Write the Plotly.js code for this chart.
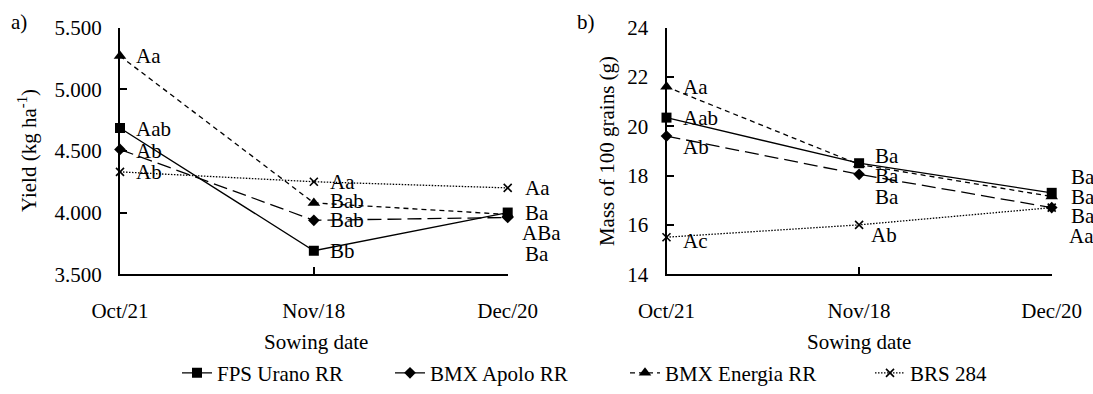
<!DOCTYPE html>
<html>
<head>
<meta charset="utf-8">
<script src="https://cdn.plot.ly/plotly-3.0.1.min.js"></script>
<style>html,body{margin:0;padding:0;background:#fff}#chart{width:1093px;height:394px}</style>
</head>
<body>
<div id="chart"></div>
<script>
// ---- data ----
const dates = ["Oct/21", "Nov/18", "Dec/20"];
const seriesNames = ["FPS Urano RR", "BMX Apolo RR", "BMX Energia RR", "BRS 284"];

const yieldFPS = [4686, 3690, 4000];
const yieldApolo = [4512, 3937, 3960];
const yieldEnergia = [5270, 4078, 3985];
const yieldBRS = [4330, 4250, 4200];

const massFPS = [20.35, 18.5, 17.3];
const massApolo = [19.6, 18.05, 16.7];
const massEnergia = [21.6, 18.45, 17.15];
const massBRS = [15.5, 16.0, 16.7];

const yieldLabelsFPS = ["Aab", "Bb", "Ba"];
const yieldLabelsApolo = ["Ab", "Bab", "Ba"];
const yieldLabelsEnergia = ["Aa", "Bab", "ABa"];
const yieldLabelsBRS = ["Ab", "Aa", "Aa"];

const massLabelsFPS = ["Aab", "Ba", "Ba"];
const massLabelsApolo = ["Ab", "Ba", "Ba"];
const massLabelsEnergia = ["Aa", "Ba", "Ba"];
const massLabelsBRS = ["Ac", "Ab", "Aa"];

// ---- styles ----
const FONT = "'Liberation Serif', 'Times New Roman', serif";
const FS = 21;
const styles = [
  {dash: "solid", symbol: "square", size: 10},
  {dash: "14px,6px", symbol: "diamond", size: 9},
  {dash: "5px,4px", symbol: "triangle-up", size: 11},
  {dash: "1.5px,1.5px", symbol: "x-thin-open", size: 8}
];
const legendX = [177, 390, 625, 870];
// label pixel shifts (style only): [series][date] -> [xshift, yshift]
const yieldShifts = [
  [[14, -1], [14, 0], [15, 0]],
  [[14, -2], [14, 0], [15, -37]],
  [[14, 0], [14, 2], [12, -19]],
  [[14, 0], [14, 0], [15, 0]]
];
const massShifts = [
  [[14, 0], [14, 7], [17, 16]],
  [[14, -11], [14, -23], [17, -8]],
  [[14, 0], [14, -12], [17, 0]],
  [[14, -4], [10, -10], [15, -28]]
];

const yieldSeries = [yieldFPS, yieldApolo, yieldEnergia, yieldBRS];
const massSeries = [massFPS, massApolo, massEnergia, massBRS];
const yieldLabels = [yieldLabelsFPS, yieldLabelsApolo, yieldLabelsEnergia, yieldLabelsBRS];
const massLabels = [massLabelsFPS, massLabelsApolo, massLabelsEnergia, massLabelsBRS];
const legendIds = ["legend", "legend2", "legend3", "legend4"];

const traces = [];
function addTraces(series, xa, ya, showleg) {
  series.forEach((vals, i) => {
    const st = styles[i];
    traces.push({
      type: "scatter", mode: "lines+markers",
      x: dates, y: vals, xaxis: xa, yaxis: ya,
      name: seriesNames[i], showlegend: showleg, legend: legendIds[i],
      cliponaxis: false,
      line: {color: "#000", width: 1.3, dash: st.dash},
      marker: {color: "#000", symbol: st.symbol, size: st.size,
               line: {color: "#000", width: st.symbol === "x-thin-open" ? 1.6 : 0}}
    });
  });
}
addTraces(yieldSeries, "x", "y", true);
addTraces(massSeries, "x2", "y2", false);

const annotations = [];
function addLabels(series, labels, shifts, xr, yr) {
  series.forEach((vals, i) => {
    vals.forEach((v, j) => {
      annotations.push({
        xref: xr, yref: yr, x: j, y: v, text: labels[i][j],
        showarrow: false, xanchor: "left", yanchor: "middle",
        xshift: shifts[i][j][0], yshift: shifts[i][j][1],
        font: {family: FONT, size: FS, color: "#000"}
      });
    });
  });
}
addLabels(yieldSeries, yieldLabels, yieldShifts, "x", "y");
addLabels(massSeries, massLabels, massShifts, "x2", "y2");

function txt(text, x, y, opts) {
  return Object.assign({xref: "paper", yref: "paper", x: x / 1093, y: 1 - y / 394, text: text,
    showarrow: false, xanchor: "center", yanchor: "middle",
    font: {family: FONT, size: FS, color: "#000"}}, opts || {});
}
annotations.push(txt("a)", 19, 22));
annotations.push(txt("b)", 586, 22));
annotations.push(txt("Yield (kg ha<sup>-1</sup>)", 27, 153, {textangle: -90}));
annotations.push(txt("Mass of 100 grains (g)", 607, 153, {textangle: -90}));
annotations.push(txt("Sowing date", 316, 346));
annotations.push(txt("Sowing date", 859, 346));

const yDom = [1 - 277.7 / 394, 1 - 28 / 394];
const axisCommon = {
  showline: true, linecolor: "#000", linewidth: 2, showgrid: false, zeroline: false,
  ticks: "inside", ticklen: 7, tickwidth: 2, tickcolor: "#000",
  tickfont: {family: FONT, size: FS, color: "#000"}, fixedrange: true
};
const layout = {
  width: 1093, height: 394,
  margin: {l: 0, r: 0, t: 0, b: 0},
  paper_bgcolor: "#fff", plot_bgcolor: "#fff",
  separators: ",.",
  font: {family: FONT, size: FS, color: "#000"},
  showlegend: true,
  xaxis: Object.assign({}, axisCommon, {domain: [120 / 1093, 507.7 / 1093], anchor: "y", type: "category",
          range: [0, 2], ticklabelstandoff: 17}),
  yaxis: Object.assign({}, axisCommon, {domain: yDom, anchor: "x", range: [3500, 5500], dtick: 500,
          tickformat: ",d", ticklabelstandoff: 12}),
  xaxis2: Object.assign({}, axisCommon, {domain: [666.5 / 1093, 1051.7 / 1093], anchor: "y2", type: "category",
          range: [0, 2], ticklabelstandoff: 17}),
  yaxis2: Object.assign({}, axisCommon, {domain: yDom, anchor: "x2", range: [14, 24], dtick: 2,
          ticklabelstandoff: 12}),
  annotations: annotations
};
legendIds.forEach((id, i) => {
  layout[id] = {orientation: "h", x: legendX[i] / 1093, y: 1 - 378 / 394, xanchor: "left", yanchor: "middle",
    font: {family: FONT, size: FS, color: "#000"}, bgcolor: "rgba(0,0,0,0)"};
});
Plotly.newPlot("chart", traces, layout, {displayModeBar: false, staticPlot: true});
</script>
</body>
</html>
